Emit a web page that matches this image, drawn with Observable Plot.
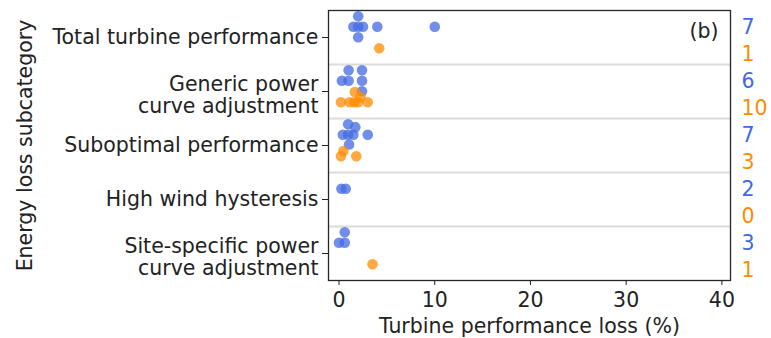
<!DOCTYPE html>
<html>
<head>
<meta charset="utf-8">
<script src="https://cdn.jsdelivr.net/npm/d3@7"></script>
<script src="https://cdn.jsdelivr.net/npm/@observablehq/plot@0.6"></script>
<style>
  html, body { margin: 0; padding: 0; background: #fff; }
</style>
</head>
<body>
<div id="chart"></div>
<script>
// ---- Data ----
const categories = [
  "Total turbine performance",
  "Generic power\ncurve adjustment",
  "Suboptimal performance",
  "High wind hysteresis",
  "Site-specific power\ncurve adjustment"
];
const seriesNames = ["Series 1", "Series 2"];
const seriesColors = ["#4169E1", "#FF8C00"];

// Turbine performance loss (%) per subcategory, series 1 (blue)
const blueValues = [
  [1.5, 2.0, 2.0, 2.0, 2.5, 4.0, 10.0],
  [0.3, 1.0, 1.0, 2.4, 2.4, 2.4],
  [0.4, 0.95, 0.95, 1.05, 1.5, 1.7, 3.0],
  [0.25, 0.7],
  [0.0, 0.6, 0.6]
];
// series 2 (orange)
const orangeValues = [
  [4.2],
  [0.2, 1.1, 1.6, 1.65, 2.0, 2.25, 3.0],
  [0.2, 0.45, 1.8],
  [],
  [3.5]
];
const blueCounts = [7, 6, 7, 2, 3];
const orangeCounts = [1, 10, 3, 0, 1];
const xTicks = [0, 10, 20, 30, 40];
const xLabel = "Turbine performance loss (%)";
const yLabel = "Energy loss subcategory";
const panelLabel = "(b)";

// ---- Layout ----
const W = 771, H = 338;
const mL = 328, mR = 41, mT = 10, mB = 58;
const xDomain = [-1.1, 40.9];
const bandPx = (H - mT - mB) / categories.length;
const pxPerUnit = (W - mL - mR) / (xDomain[1] - xDomain[0]);
const swarmScale = 3.8 * pxPerUnit; // x stretch used when the swarm was laid out
const dotDiam = 10.5;
const dodge = [-0.2, 0.2];
const countShift = [-0.23, 0.27];
const FS = 20.5;

// beeswarm: offsets (px) perpendicular to the value axis
function swarm(values, sx, d) {
  const order = d3.range(values.length).sort((a, b) => values[a] - values[b]);
  const placed = [];
  const off = new Array(values.length);
  for (const i of order) {
    const xi = values[i] * sx;
    const nb = placed.filter(p => Math.abs(p.x - xi) < d);
    const cands = [0];
    for (const p of nb) {
      const h = Math.sqrt(d * d - (p.x - xi) ** 2);
      cands.push(p.y - h, p.y + h);
    }
    cands.sort((a, b) => Math.abs(a) - Math.abs(b) || a - b);
    const chosen = cands.find(c => nb.every(p => (p.x - xi) ** 2 + (p.y - c) ** 2 >= d * d - 1e-6));
    off[i] = chosen;
    placed.push({x: xi, y: chosen});
  }
  return off;
}

const points = [];
[blueValues, orangeValues].forEach((set, s) => {
  set.forEach((vals, ci) => {
    const offs = swarm(vals, swarmScale, dotDiam);
    vals.forEach((v, k) => {
      points.push({
        category: ci,
        series: seriesNames[s],
        value: v,
        yPos: ci + dodge[s] + offs[k] / bandPx
      });
    });
  });
});

const counts = [];
[blueCounts, orangeCounts].forEach((arr, s) => {
  arr.forEach((n, ci) => counts.push({series: seriesNames[s], n, yPos: ci + countShift[s]}));
});

const catRows = categories.map((label, i) => ({i, label, multi: label.includes("\n")}));

const chart = Plot.plot({
  width: W,
  height: H,
  marginLeft: mL,
  marginRight: mR,
  marginTop: mT,
  marginBottom: mB,
  style: {fontFamily: "'DejaVu Sans', sans-serif", fontSize: FS + "px", color: "#222", background: "#fff"},
  x: {domain: xDomain},
  y: {domain: [-0.5, categories.length - 0.5], reverse: true},
  color: {domain: seriesNames, range: seriesColors},
  marks: [
    Plot.ruleY(d3.range(0.5, categories.length - 0.5, 1), {stroke: "#dcdcdc", strokeWidth: 2}),
    Plot.dot(points, {x: "value", y: "yPos", r: 5.3, fill: "series", fillOpacity: 0.75, stroke: null}),
    Plot.frame({stroke: "#262626", strokeWidth: 1.3}),
    Plot.axisY({
      ticks: d3.range(categories.length),
      tickFormat: () => "",
      tickSize: 6,
      label: null
    }),
    Plot.text(catRows.filter(d => !d.multi), {y: "i", text: "label", frameAnchor: "left", dx: -10, textAnchor: "end", lineAnchor: "middle", fontSize: FS}),
    Plot.text(catRows.filter(d => d.multi), {y: "i", text: "label", frameAnchor: "left", dx: -10, dy: 3, textAnchor: "end", lineAnchor: "middle", lineHeight: 1.07, fontSize: FS}),
    Plot.axisX({ticks: xTicks, tickSize: 5, tickPadding: 7, fontSize: FS, label: null}),
    Plot.text([xLabel], {frameAnchor: "bottom", dy: 46, lineAnchor: "middle", fontSize: FS}),
    Plot.text([yLabel], {frameAnchor: "left", rotate: -90, dx: -303, textAnchor: "middle", lineAnchor: "middle", fontSize: FS}),
    Plot.text(counts, {y: "yPos", text: "n", fill: "series", frameAnchor: "right", dx: 11, dy: 2, textAnchor: "start", lineAnchor: "middle", fontSize: FS}),
    Plot.text([panelLabel], {frameAnchor: "top-right", dx: -12, dy: 21, textAnchor: "end", lineAnchor: "middle", fontSize: FS})
  ]
});
document.getElementById("chart").appendChild(chart);
</script>
</body>
</html>
